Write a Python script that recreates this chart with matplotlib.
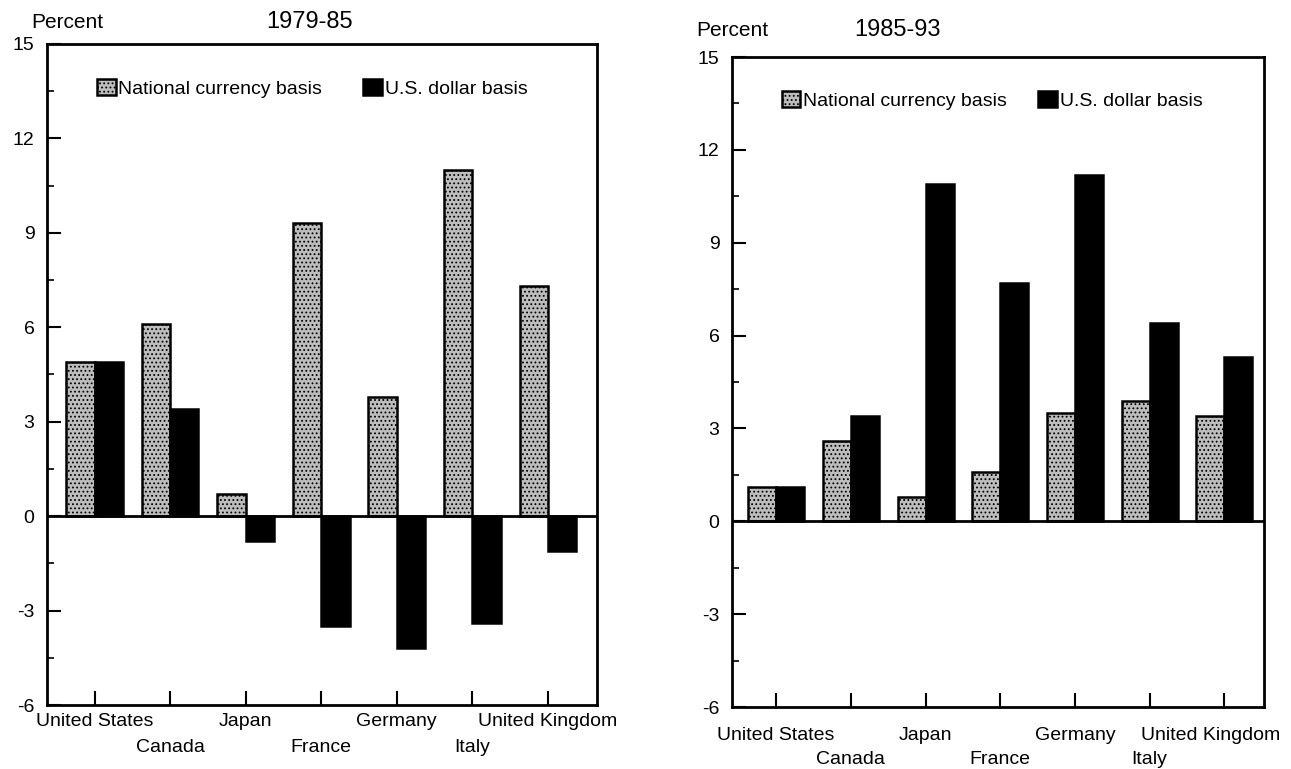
import matplotlib
matplotlib.use("Agg")
import matplotlib.pyplot as plt
import numpy as np

plt.rcParams['font.family'] = ['Liberation Sans', 'DejaVu Sans']
plt.rcParams['hatch.linewidth'] = 0.8

countries = ["United States", "Canada", "Japan", "France", "Germany", "Italy", "United Kingdom"]
series_names = ["National currency basis", "U.S. dollar basis"]
yticks = [-6, -3, 0, 3, 6, 9, 12, 15]

p1_title = "1979-85"
p1_national = [4.9, 6.1, 0.7, 9.3, 3.8, 11.0, 7.3]
p1_dollar = [4.9, 3.4, -0.8, -3.5, -4.2, -3.4, -1.1]

p2_title = "1985-93"
p2_national = [1.1, 2.6, 0.8, 1.6, 3.5, 3.9, 3.4]
p2_dollar = [1.1, 3.4, 10.9, 7.7, 11.2, 6.4, 5.3]

W, H = 1291, 769
fig = plt.figure(figsize=(W / 100, H / 100), dpi=100)

def px_rect(l, r, t, b):
    return [l / W, 1 - b / H, (r - l) / W, (b - t) / H]

panels = [
    dict(rect=px_rect(47, 597, 44, 705), xlim=(-0.63, 6.65), nat=p1_national, dol=p1_dollar,
         title=p1_title, title_xy=(310, 22), pct_xy=(31, 22), row_dy=(-16, -42), last_dx=0,
         leg_x=0.091, colsp=2.1),
    dict(rect=px_rect(732, 1264, 57, 707), xlim=(-0.59, 6.53), nat=p2_national, dol=p2_dollar,
         title=p2_title, title_xy=(897, 30), pct_xy=(696, 30), row_dy=(-28, -52), last_dx=-14,
         leg_x=0.094, colsp=1.6),
]

bw = 0.375
for p in panels:
    ax = fig.add_axes(p['rect'])
    x = np.arange(len(countries))
    b1 = ax.bar(x - bw / 2, p['nat'], bw, facecolor='#bdbdbd', edgecolor='black',
                hatch='....', linewidth=1.8, label=series_names[0], zorder=2)
    b2 = ax.bar(x + bw / 2, p['dol'], bw, facecolor='black', edgecolor='black',
                linewidth=1.8, label=series_names[1], zorder=2)
    ax.axhline(0, color='black', linewidth=2.0, zorder=3)
    ax.set_xlim(*p['xlim'])
    ax.set_ylim(-6, 15)
    ax.set_yticks(yticks)
    ax.set_yticklabels([str(v) for v in yticks], fontsize=14)
    ax.set_yticks(np.arange(-4.5, 15, 3), minor=True)
    ax.tick_params(axis='y', which='major', direction='in', length=10, width=1.5, pad=9)
    ax.tick_params(axis='y', which='minor', direction='in', length=5, width=1.2)
    ax.set_xticks(x)
    ax.set_xticklabels([])
    ax.tick_params(axis='x', which='major', direction='in', length=10, width=1.5)
    for s in ax.spines.values():
        s.set_linewidth(2.0)
    for i, name in enumerate(countries):
        dy = p['row_dy'][i % 2]
        dx = p['last_dx'] if i == len(countries) - 1 else 0
        ax.annotate(name, xy=(i, 0), xycoords=('data', 'axes fraction'),
                    xytext=(dx, dy), textcoords='offset pixels',
                    ha='center', va='center', fontsize=14, annotation_clip=False)
    ax.legend(handles=[b1, b2], loc='center left', bbox_to_anchor=(p['leg_x'], 0.933), ncol=2,
              frameon=False, fontsize=14, handlelength=0.95, handleheight=0.9,
              handletextpad=0.15, columnspacing=p['colsp'], borderaxespad=0, borderpad=0)
    fig.text(p['title_xy'][0] / W, 1 - p['title_xy'][1] / H, p['title'],
             ha='center', va='center', fontsize=17)
    fig.text(p['pct_xy'][0] / W, 1 - p['pct_xy'][1] / H, "Percent",
             ha='left', va='center', fontsize=15)

fig.savefig("out.png", dpi=100)
